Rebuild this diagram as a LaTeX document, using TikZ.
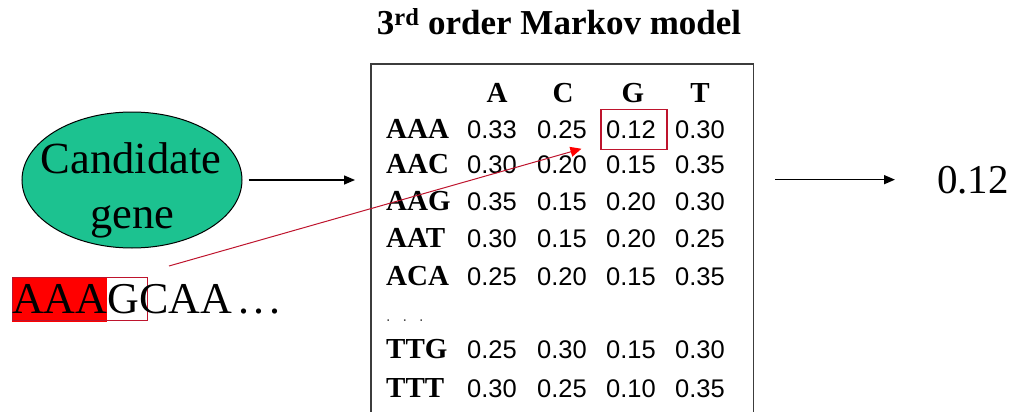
\documentclass[tikz,border=0pt]{standalone}
\usepackage{fontspec}
\setmainfont{Liberation Serif}
\newfontfamily\numfont{Liberation Sans}
\usetikzlibrary{arrows.meta,shapes.geometric}
\definecolor{genegreen}{RGB}{28,194,144}
\definecolor{linkred}{RGB}{190,20,45}
\definecolor{framegray}{RGB}{60,60,60}
\tikzset{
  headfont/.style={font=\fontsize{35}{40}\selectfont\bfseries},
  rowlab/.style={anchor=base west, inner sep=0pt, font=\fontsize{29}{32}\selectfont\bfseries},
  collab/.style={anchor=base, inner sep=0pt, font=\fontsize{29}{32}\selectfont\bfseries},
  prob/.style={anchor=base, font=\numfont\fontsize{25.5}{28}\selectfont},
  bigtext/.style={font=\fontsize{44.5}{50}\selectfont},
  flow/.style={line width=1.5pt, -{Triangle[length=11pt,width=9pt]}},
  redlink/.style={linkred, line width=1pt, -{Triangle[length=11pt,width=10pt,color=red]}},
  frame/.style={framegray, line width=1.8pt}
}
\begin{document}
\begin{tikzpicture}[x=1pt,y=-1pt]
\useasboundingbox (0,0) rectangle (1020,412);

% title
\node[headfont, anchor=base] (title) at (559,35) {3\textsuperscript{rd} order Markov model};

% model table frame (open at the bottom)
\node[minimum width=382pt, minimum height=360pt, anchor=north west, inner sep=0pt] (model) at (371,64) {};
\draw[frame] (model.south west) -- (model.north west) -- (model.north east) -- (model.south east);

% column headers
\foreach \n/\x in {A/497, C/563, G/633, T/700}
  \node[collab] (h\n) at (\x,102) {\n};

% rows of transition probabilities
\foreach \lab/\y/\a/\b/\c/\d [count=\i] in {
    AAA/138/0.33/0.25/0.12/0.30,
    AAC/173/0.30/0.20/0.15/0.35,
    AAG/210/0.35/0.15/0.20/0.30,
    AAT/247/0.30/0.15/0.20/0.25,
    ACA/285/0.25/0.20/0.15/0.35,
    TTG/358/0.25/0.30/0.15/0.30,
    TTT/397/0.30/0.25/0.10/0.35} {
  \node[rowlab] (r\i) at (386,\y) {\lab};
  \node[prob] (r\i c1) at (492,\y) {\a};
  \node[prob] (r\i c2) at (562,\y) {\b};
  \node[prob] (r\i c3) at (631,\y) {\c};
  \node[prob] (r\i c4) at (700,\y) {\d};
}
\node[anchor=base west, inner sep=0pt, text=black!70, font=\numfont\fontsize{16}{18}\selectfont] (skip) at (386,321) {.\hspace{12pt}.\hspace{12pt}.};

% highlighted entry P(G | AAA)
\node[draw=linkred, line width=1.1pt, minimum width=66pt, minimum height=40pt, inner sep=0pt] (hl) at ([xshift=3pt]r1c3.center) {};

% candidate gene
\node[ellipse, draw, line width=1pt, fill=genegreen, minimum width=220pt, minimum height=136pt, inner sep=0pt] (gene) at (132,180) {};
\node[bigtext, anchor=base] (gene1) at (131,173) {Candidate};
\node[bigtext, anchor=base] (gene2) at (132,228) {gene};

% sequence with the current context and next base
\node[fill=red, minimum width=95pt, minimum height=45pt, anchor=north west, inner sep=0pt] (ctx) at (12,277) {};
\node[draw=linkred, line width=1pt, minimum width=135pt, minimum height=43pt, anchor=north west, inner sep=0pt] (gbox) at (12,277) {};
\node[anchor=base west, inner sep=0pt, font=\fontsize{44}{48}\selectfont] (seq) at (12,313) {AAAGCAA\kern6pt.\kern4.5pt.\kern4.5pt.};

% result
\node[anchor=base west, inner sep=0pt, font=\fontsize{41}{46}\selectfont] (result) at (937,193) {0.12};

% connectors
\draw[flow, shorten <=6pt, shorten >=16pt] (gene.east) -- (gene.east -| model.west);
\draw[flow, shorten <=22pt, shorten >=42pt] (result.west -| model.east) -- (result.west);
\draw[redlink] ([shift={(21,-11)}]gbox.north east) -- ([shift={(-19,-1)}]hl.south west);
\end{tikzpicture}
\end{document}
